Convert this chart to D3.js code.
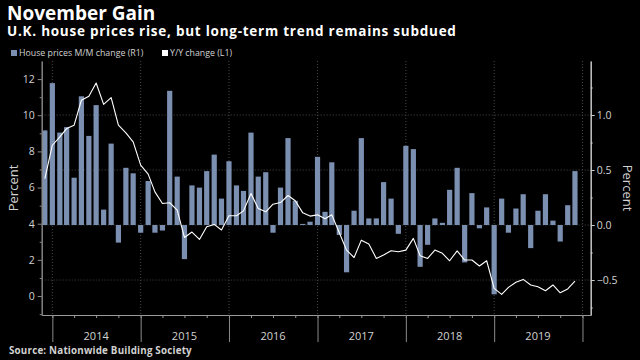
<!DOCTYPE html>
<html>
<head>
<meta charset="utf-8">
<script src="https://cdn.jsdelivr.net/npm/d3@7"></script>
<style>
body { margin: 0; background: #000; }
text { font-family: "Open Sans", sans-serif; }
</style>
</head>
<body>
<div id="chart"></div>
<script>
// first month of the series (Nov 2013), one value per month up to Nov 2019
const firstMonth = new Date(2013, 10, 1);

// House prices M/M change, % (right axis)
const momChange = [
  0.86, 1.29,
  0.84, 0.89, 0.43, 1.17, 0.81, 1.09, 0.14, 0.74, -0.16, 0.52, 0.47, -0.07,
  0.40, -0.07, -0.05, 1.22, 0.44, -0.31, 0.36, 0.34, 0.49, 0.64, 0.24, 0.58,
  0.36, 0.31, 0.84, 0.44, 0.48, -0.07, 0.34, 0.79, 0.22, 0.01, 0.03, 0.62,
  0.12, 0.57, -0.09, -0.43, 0.13, 0.79, 0.06, 0.06, 0.39, 0.24, -0.08, 0.72,
  0.69, -0.38, -0.18, 0.06, 0.02, 0.32, 0.52, -0.34, 0.29, -0.03, 0.16, -0.63,
  0.24, -0.07, 0.15, 0.28, -0.21, 0.13, 0.28, 0.04, -0.15, 0.18, 0.49
];

// Y/Y change, % (left axis)
const yoyChange = [
  6.50, 8.34,
  8.80, 9.26, 9.45, 10.83, 11.05, 11.78, 10.60, 10.97, 9.45, 9.02, 8.53, 7.24,
  6.74, 5.76, 5.12, 5.16, 4.75, 3.24, 3.54, 3.13, 3.83, 3.96, 3.65, 4.44,
  4.44, 4.71, 5.67, 4.84, 4.66, 5.08, 5.17, 5.56, 5.27, 4.60, 4.42, 4.49,
  4.27, 4.49, 3.50, 2.54, 2.13, 3.09, 2.88, 2.08, 2.27, 2.50, 2.45, 2.54,
  3.19, 2.23, 2.08, 2.54, 2.36, 1.95, 2.50, 1.99, 1.99, 1.66, 1.95, 0.42,
  0.09, 0.48, 0.76, 0.92, 0.61, 0.51, 0.29, 0.61, 0.18, 0.39, 0.83
];

const yearLabels = ["2014", "2015", "2016", "2017", "2018", "2019"];
const leftTicks = [0, 2, 4, 6, 8, 10, 12];
const leftMinor = [-1, 1, 3, 5, 7, 9, 11];
const rightTicks = [-0.5, 0, 0.5, 1.0];
const rightMinor = [-0.75, -0.25, 0.25, 0.75, 1.25];

const W = 640, H = 360;
const plot = { left: 41.7, right: 590.7, top: 61, bottom: 315 };
const barColor = "#7b8fb1";
const textColor = "#d2d2d2";

const svg = d3.select("#chart").append("svg")
    .attr("width", W)
    .attr("height", H)
    .style("background", "#000");

// bars sit at the end of their month
const months = momChange.map((d, i) => d3.timeMonth.offset(firstMonth, i + 1));

const x = d3.scaleTime()
    .domain([new Date(2013, 10, 18), new Date(2020, 1, 4)])
    .range([plot.left, plot.right]);
const yL = d3.scaleLinear().domain([-1.05, 13]).range([plot.bottom, plot.top]);
const yR = d3.scaleLinear().domain([-0.818, 1.491]).range([plot.bottom, plot.top]);

const yearStarts = d3.range(2014, 2021).map(y => new Date(y, 0, 1));

// grid
const grid = svg.append("g");
grid.selectAll("line.h")
    .data(rightTicks)
    .enter().append("line")
    .attr("x1", plot.left).attr("x2", plot.right)
    .attr("y1", d => yR(d)).attr("y2", d => yR(d))
    .attr("stroke", "#5a5a5a")
    .attr("stroke-width", 0.8)
    .attr("stroke-dasharray", "1,2");
grid.selectAll("line.v")
    .data(yearStarts)
    .enter().append("line")
    .attr("x1", d => x(d)).attr("x2", d => x(d))
    .attr("y1", plot.top).attr("y2", plot.bottom)
    .attr("stroke", "#5a5a5a")
    .attr("stroke-width", 0.8)
    .attr("stroke-dasharray", "1,2");

// M/M bars
const barW = 5.2;
svg.append("g")
    .selectAll("rect")
    .data(momChange)
    .enter().append("rect")
    .attr("x", (d, i) => x(months[i]) - barW / 2)
    .attr("y", d => yR(Math.max(0, d)))
    .attr("width", barW)
    .attr("height", d => Math.abs(yR(d) - yR(0)))
    .attr("fill", barColor);

// Y/Y line
const line = d3.line()
    .x((d, i) => x(months[i]))
    .y(d => yL(d));
svg.append("path")
    .datum(yoyChange)
    .attr("d", line)
    .attr("fill", "none")
    .attr("stroke", "#fff")
    .attr("stroke-width", 1.1)
    .attr("stroke-linejoin", "round");

// axes
function styleAxis(g, col) {
    g.select(".domain").attr("stroke", col);
    g.selectAll(".tick line").attr("stroke", col);
    g.selectAll(".tick text")
        .attr("fill", textColor)
        .style("font-family", "'Open Sans', sans-serif")
        .style("font-size", "10.5px");
}

svg.append("g")
    .attr("transform", `translate(${plot.left},0)`)
    .call(d3.axisLeft(yL).tickValues(leftTicks).tickSize(4).tickPadding(3).tickSizeOuter(0))
    .call(g => styleAxis(g, "#8a8a8a"));
svg.append("g")
    .attr("transform", `translate(${plot.left},0)`)
    .call(d3.axisLeft(yL).tickValues(leftMinor).tickSize(2).tickFormat("").tickSizeOuter(0))
    .call(g => styleAxis(g, "#8a8a8a"));

svg.append("g")
    .attr("transform", `translate(${plot.right},0)`)
    .call(d3.axisRight(yR).tickValues(rightTicks).tickSize(4).tickPadding(2)
        .tickFormat(d3.format(".1f")).tickSizeOuter(0))
    .call(g => styleAxis(g, "#cfcfcf"));
svg.append("g")
    .attr("transform", `translate(${plot.right},0)`)
    .call(d3.axisRight(yR).tickValues(rightMinor).tickSize(2).tickFormat("").tickSizeOuter(0))
    .call(g => styleAxis(g, "#cfcfcf"));

// x axis: quarter ticks + year separators
const quarters = d3.timeMonth.range(new Date(2014, 0, 1), new Date(2020, 0, 2), 3);
svg.append("g")
    .attr("transform", `translate(0,${plot.bottom})`)
    .call(d3.axisBottom(x).tickValues(quarters).tickSize(3).tickFormat("").tickSizeOuter(0))
    .call(g => styleAxis(g, "#9a9a9a"));
svg.append("g")
    .attr("transform", `translate(0,${plot.bottom})`)
    .call(d3.axisBottom(x).tickValues(yearStarts).tickSize(27).tickFormat("").tickSizeOuter(0))
    .call(g => g.select(".domain").remove())
    .call(g => g.selectAll(".tick line").attr("stroke", "#8a8a8a"));

svg.append("g")
    .selectAll("text")
    .data(yearLabels)
    .enter().append("text")
    .attr("x", d => x(new Date(+d, 6, 1)))
    .attr("y", 340)
    .attr("text-anchor", "middle")
    .attr("fill", textColor)
    .style("font-size", "11px")
    .text(d => d);

// axis titles
svg.append("text")
    .attr("transform", `translate(18,188) rotate(-90)`)
    .attr("text-anchor", "middle")
    .attr("fill", textColor)
    .style("font-size", "13px")
    .text("Percent");
svg.append("text")
    .attr("transform", `translate(623,188) rotate(90)`)
    .attr("text-anchor", "middle")
    .attr("fill", textColor)
    .style("font-size", "13px")
    .text("Percent");

// titles
svg.append("text")
    .attr("x", 7).attr("y", 20)
    .attr("fill", "#fff")
    .attr("font-weight", "bold")
    .style("font-size", "19px")
    .text("November Gain");
svg.append("text")
    .attr("x", 7).attr("y", 36)
    .attr("fill", "#fff")
    .attr("font-weight", "bold")
    .style("font-size", "13.5px")
    .style("letter-spacing", "0.75px")
    .text("U.K. house prices rise, but long-term trend remains subdued");

// legend
const legend = [
    { label: "House prices M/M change (R1)", color: barColor, x: 11 },
    { label: "Y/Y change (L1)", color: "#fff", x: 162 }
];
const lg = svg.append("g").selectAll("g")
    .data(legend)
    .enter().append("g")
    .attr("transform", d => `translate(${d.x},50)`);
lg.append("rect")
    .attr("width", 6).attr("height", 6)
    .attr("fill", d => d.color);
lg.append("text")
    .attr("x", 8).attr("y", 6)
    .attr("fill", textColor)
    .style("font-size", "8.8px")
    .text(d => d.label);

// source
svg.append("text")
    .attr("x", 9).attr("y", 353.5)
    .attr("fill", textColor)
    .attr("font-weight", "bold")
    .style("font-size", "9.8px")
    .style("letter-spacing", "0.2px")
    .text("Source: Nationwide Building Society");
</script>
</body>
</html>
